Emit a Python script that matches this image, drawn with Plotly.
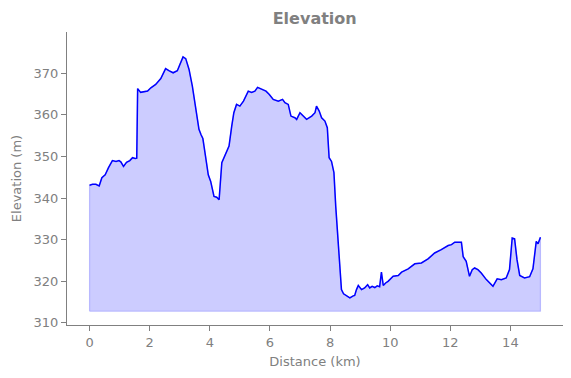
import plotly.graph_objects as go

distance_km = [0.00, 0.10, 0.21, 0.32, 0.41, 0.52, 0.63, 0.76, 0.88, 0.98, 1.04, 1.13, 1.23, 1.34, 1.43, 1.52,
               1.57, 1.60, 1.70, 1.85, 1.93, 2.04, 2.20, 2.37, 2.53, 2.64, 2.78, 2.92, 3.03, 3.11, 3.20, 3.31,
               3.42, 3.53, 3.64, 3.71, 3.77, 3.84, 3.95, 4.03, 4.14, 4.23, 4.31, 4.40, 4.47, 4.56, 4.64, 4.73,
               4.80, 4.89, 5.00, 5.12, 5.20, 5.28, 5.39, 5.50, 5.59, 5.72, 5.87, 5.98, 6.11, 6.28, 6.42, 6.50,
               6.61, 6.70, 6.83, 6.89, 7.00, 7.11, 7.22, 7.39, 7.50, 7.55, 7.64, 7.72, 7.83, 7.91, 7.97, 8.05,
               8.13, 8.19, 8.27, 8.33, 8.38, 8.45, 8.55, 8.66, 8.77, 8.82, 8.88, 8.94, 9.05, 9.15, 9.25, 9.32,
               9.40, 9.49, 9.57, 9.65, 9.71, 9.77, 9.85, 9.93, 10.10, 10.27, 10.38, 10.60, 10.82, 11.04, 11.26,
               11.48, 11.70, 11.93, 12.04, 12.15, 12.37, 12.43, 12.53, 12.59, 12.64, 12.73, 12.81, 12.92, 13.03,
               13.20, 13.37, 13.42, 13.56, 13.70, 13.86, 13.97, 14.06, 14.14, 14.22, 14.31, 14.47, 14.64, 14.75,
               14.86, 14.92, 15.00]

elevation_m = [343.1, 343.3, 343.3, 342.9, 344.9, 345.6, 347.3, 349.0, 348.8, 349.0, 348.7, 347.6, 348.6, 349.0, 349.7, 349.5,
               349.6, 366.3, 365.4, 365.7, 365.7, 366.5, 367.3, 368.7, 371.1, 370.6, 370.1, 370.6, 372.5, 373.9, 373.5, 370.9,
               366.9, 362.0, 356.5, 355.2, 354.3, 350.9, 345.6, 344.0, 340.4, 340.2, 339.6, 348.5, 349.7, 350.9, 352.5, 357.3,
               360.5, 362.5, 362.1, 363.3, 364.5, 365.7, 365.4, 365.7, 366.6, 366.1, 365.7, 364.9, 363.7, 363.3, 363.7, 362.9,
               362.5, 359.7, 359.3, 358.9, 360.5, 359.7, 358.9, 359.7, 360.5, 362.1, 360.9, 359.3, 358.5, 356.9, 349.7, 348.8,
               346.1, 338.0, 330.0, 323.6, 318.0, 317.0, 316.6, 316.0, 316.5, 316.6, 318.0, 319.0, 318.0, 318.4, 319.2, 318.4,
               318.8, 318.5, 318.9, 318.7, 322.2, 319.0, 319.6, 320.0, 321.2, 321.4, 322.2, 323.0, 324.2, 324.4, 325.4,
               326.8, 327.6, 328.6, 328.8, 329.4, 329.4, 325.9, 324.8, 323.2, 321.2, 322.8, 323.2, 322.8, 322.0,
               320.4, 319.2, 318.8, 320.6, 320.4, 320.8, 322.8, 330.4, 330.2, 325.2, 321.4, 320.8, 321.1, 323.0,
               329.6, 329.0, 330.6]

fill_base_m = 312.8
x_ticks = [0, 2, 4, 6, 8, 10, 12, 14]
y_ticks = [310, 320, 330, 340, 350, 360, 370]

gray = "#808080"
font = "DejaVu Sans"

poly_x = [distance_km[0]] + distance_km + [distance_km[-1], distance_km[0]]
poly_y = [fill_base_m] + elevation_m + [fill_base_m, fill_base_m]

fig = go.Figure()
fig.add_trace(go.Scatter(x=poly_x, y=poly_y, mode="lines", fill="toself",
                         fillcolor="rgba(0,0,255,0.2)",
                         line=dict(color="rgba(0,0,255,0.2)", width=1.2),
                         hoverinfo="skip", showlegend=False))
fig.add_trace(go.Scatter(x=distance_km, y=elevation_m, mode="lines",
                         line=dict(color="blue", width=1.5), showlegend=False))

W, H = 563, 370
fig.update_layout(
    width=W, height=H,
    margin=dict(l=59, r=8, t=24, b=53, autoexpand=False),
    paper_bgcolor="white", plot_bgcolor="white",
    font=dict(family=font, size=13, color=gray),
    title=dict(text="<b>Elevation</b>", x=306.7 / W, xanchor="center",
               y=1 - 10 / H, yanchor="middle", font=dict(size=16, color=gray, family=font)),
    xaxis=dict(range=[-0.75, 15.75], tickvals=x_ticks, showgrid=False, zeroline=False, automargin=False,
               showline=True, linecolor=gray, linewidth=1.2, ticks="outside", ticklen=5,
               tickcolor=gray, tickfont=dict(size=13, color=gray),
               title=dict(text="Distance (km)", standoff=8, font=dict(size=13, color=gray))),
    yaxis=dict(range=[309.5, 379.9], tickvals=y_ticks, showgrid=False, zeroline=False, automargin=False,
               showline=True, linecolor=gray, linewidth=1.2, ticks="outside", ticklen=5,
               tickcolor=gray, tickfont=dict(size=13, color=gray),
               title=dict(text="Elevation (m)", standoff=8, font=dict(size=13, color=gray))),
)

fig.write_html("out.html")
